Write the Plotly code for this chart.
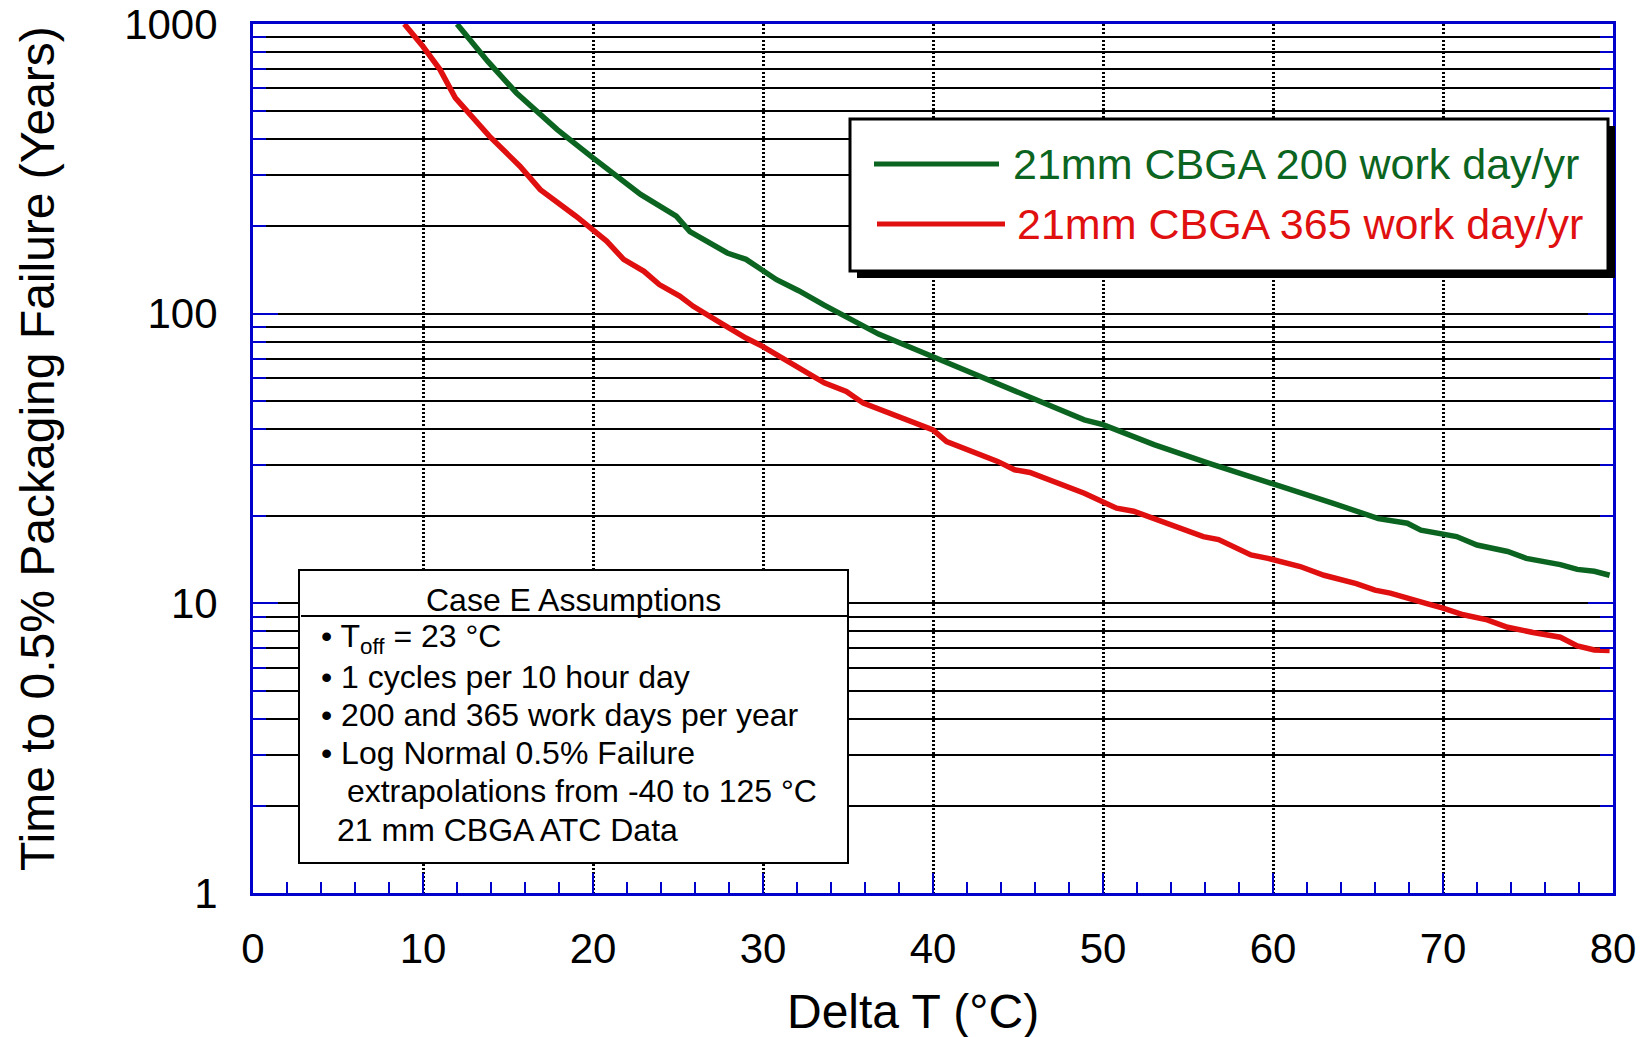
import plotly.graph_objects as go

# Delta T (°C) against time to 0.5% packaging failure (years), 21 mm CBGA
dt_200 = [12.0, 13.8, 15.5, 17.9, 20.0, 22.8, 24.9, 25.7, 27.9, 29.0, 30.8, 32.1,
          33.6, 34.8, 36.8, 40.0, 43.8, 48.9, 50.0, 53.0, 56.2, 60.0, 63.5, 66.2,
          67.9, 68.7, 70.8, 72.0, 73.8, 74.9, 76.9, 77.9, 78.9, 79.8]
years_200 = [1000, 744, 578, 432, 345, 258, 217, 192, 162, 154, 131, 120,
             107, 98, 85, 71, 57.6, 43, 41.4, 35.3, 30.5, 26, 22.2, 19.6,
             18.9, 17.9, 17.0, 15.9, 15.1, 14.3, 13.6, 13.1, 12.9, 12.5]

dt_365 = [8.9, 10.0, 11.0, 11.9, 13.9, 15.7, 16.9, 19.0, 20.8, 21.8, 23.0, 23.9,
          25.1, 25.9, 27.5, 29.0, 30.0, 32.1, 33.6, 34.9, 35.9, 40.0, 40.8, 43.8,
          44.8, 45.7, 48.9, 50.8, 51.8, 55.9, 56.8, 58.7, 59.7, 61.6, 63.0, 64.9,
          66.0, 66.9, 68.1, 69.1, 70.0, 71.2, 72.6, 73.8, 75.3, 76.9, 77.9, 78.9, 79.8]
years_365 = [1000, 836, 696, 556, 410, 323, 268, 217, 178, 154, 140, 126,
             115, 106, 93, 82.4, 77, 65.5, 57.7, 53.9, 49.1, 39.7, 36.2, 30.9,
             28.9, 28.3, 24.0, 21.3, 20.8, 17.0, 16.6, 14.7, 14.3, 13.4, 12.5, 11.7,
             11.1, 10.85, 10.3, 9.96, 9.63, 9.13, 8.77, 8.27, 7.93, 7.64, 7.13, 6.9, 6.87]

series_names = ["21mm CBGA 200 work day/yr", "21mm CBGA 365 work day/yr"]

x_tickvals = [0, 10, 20, 30, 40, 50, 60, 70, 80]
x_ticktext = ["0", "10", "20", "30", "40", "50", "60", "70", "80"]
y_tickvals = [1, 10, 100, 1000]
y_ticktext = ["1", "10", "100", "1000"]
y_minorvals = [m * d for d in (1, 10, 100) for m in range(2, 10)]

box_lines = [
    "• T<sub>off</sub> = 23 °C",
    "• 1 cycles per 10 hour day",
    "• 200 and 365 work days per year",
    "• Log Normal 0.5% Failure",
    " extrapolations from -40 to 125 °C",
    "21 mm CBGA ATC Data",
]

GREEN = "#0c6421"
RED = "#e01010"
BLUE = "#0000cc"
FONT = "Liberation Sans, Arial, Helvetica, sans-serif"

# plot area in pixels (page is 1646 x 1037)
L, R, T, B = 253, 33, 24, 144
W, H = 1646, 1037
PW, PH = W - L - R, H - T - B


def px(xp):
    return (xp - L) / PW


def py(yp):
    return (H - B - yp) / PH


fig = go.Figure()
fig.add_trace(go.Scatter(x=dt_200, y=years_200, mode="lines", name=series_names[0],
                         line=dict(color=GREEN, width=5.5)))
fig.add_trace(go.Scatter(x=dt_365, y=years_365, mode="lines", name=series_names[1],
                         line=dict(color=RED, width=5.5)))

fig.update_layout(
    width=W, height=H,
    margin=dict(l=L, r=R, t=T, b=B, autoexpand=False),
    paper_bgcolor="white", plot_bgcolor="white",
    showlegend=False,
    font=dict(family=FONT, color="black"),
)

fig.update_xaxes(
    range=[0, 80], tickvals=x_tickvals, ticktext=x_ticktext,
    ticks="inside", ticklen=20, tickwidth=2, tickcolor=BLUE,
    showline=True, linecolor=BLUE, linewidth=3, mirror=True,
    showgrid=True, gridcolor="black", gridwidth=2.5, griddash="2px,2px",
    zeroline=False, automargin=False, ticklabelstandoff=17,
    tickfont=dict(size=42, family=FONT),
    minor=dict(dtick=2, tick0=0, ticks="inside", ticklen=11, tickwidth=2,
               tickcolor=BLUE, showgrid=False),
)
fig.update_yaxes(
    type="log", range=[0, 3], tickvals=y_tickvals, ticktext=y_ticktext,
    ticks="inside", ticklen=25, tickwidth=2, tickcolor=BLUE,
    showline=True, linecolor=BLUE, linewidth=3, mirror="ticks",
    showgrid=True, gridcolor="black", gridwidth=2,
    zeroline=False, automargin=False, ticklabelstandoff=24,
    tickfont=dict(size=42, family=FONT),
    minor=dict(tickvals=y_minorvals, ticks="inside", ticklen=13, tickwidth=2,
               tickcolor=BLUE, showgrid=True, gridcolor="black", gridwidth=2),
)

shapes = []
# assumptions box
shapes.append(dict(type="rect", xref="paper", yref="paper",
                   x0=px(299), x1=px(848), y0=py(863), y1=py(570),
                   fillcolor="white", line=dict(color="black", width=2), layer="above"))
shapes.append(dict(type="line", xref="paper", yref="paper",
                   x0=px(301), x1=px(848), y0=py(616), y1=py(616),
                   line=dict(color="black", width=2), layer="above"))
# legend box with drop shadow
shapes.append(dict(type="rect", xref="paper", yref="paper",
                   x0=px(857), x1=px(1615), y0=py(278), y1=py(126),
                   fillcolor="black", line=dict(color="black", width=0), layer="above"))
shapes.append(dict(type="rect", xref="paper", yref="paper",
                   x0=px(850), x1=px(1608), y0=py(271), y1=py(119),
                   fillcolor="white", line=dict(color="black", width=3), layer="above"))
shapes.append(dict(type="line", xref="paper", yref="paper",
                   x0=px(874), x1=px(999), y0=py(164), y1=py(164),
                   line=dict(color=GREEN, width=5), layer="above"))
shapes.append(dict(type="line", xref="paper", yref="paper",
                   x0=px(877), x1=px(1005), y0=py(224), y1=py(224),
                   line=dict(color=RED, width=5), layer="above"))

annotations = []
annotations.append(dict(text=series_names[0], xref="paper", yref="paper",
                        x=px(1011), y=py(164), xanchor="left", yanchor="middle",
                        showarrow=False, font=dict(size=43, color=GREEN, family=FONT)))
annotations.append(dict(text=series_names[1], xref="paper", yref="paper",
                        x=px(1015), y=py(224), xanchor="left", yanchor="middle",
                        showarrow=False, font=dict(size=43, color=RED, family=FONT)))
annotations.append(dict(text="Case E Assumptions", xref="paper", yref="paper",
                        x=px(573), y=py(600), xanchor="center", yanchor="middle",
                        showarrow=False, font=dict(size=32, family=FONT)))
line_y = [638, 677, 715, 753, 791, 830]
line_x = [319, 319, 319, 319, 336, 335]
for txt, xx, yy in zip(box_lines, line_x, line_y):
    annotations.append(dict(text=txt, xref="paper", yref="paper",
                            x=px(xx), y=py(yy), xanchor="left", yanchor="middle",
                            showarrow=False, font=dict(size=32, family=FONT)))
# axis titles
annotations.append(dict(text="Delta T (°C)", xref="paper", yref="paper",
                        x=px(913), y=py(1011), xanchor="center", yanchor="middle",
                        showarrow=False, font=dict(size=48, family=FONT)))
annotations.append(dict(text="Time to 0.5% Packaging Failure (Years)", xref="paper", yref="paper",
                        x=px(38), y=py(449), xanchor="center", yanchor="middle",
                        textangle=-90, showarrow=False, font=dict(size=48, family=FONT)))

fig.update_layout(shapes=shapes, annotations=annotations)

fig.write_html("out.html")
